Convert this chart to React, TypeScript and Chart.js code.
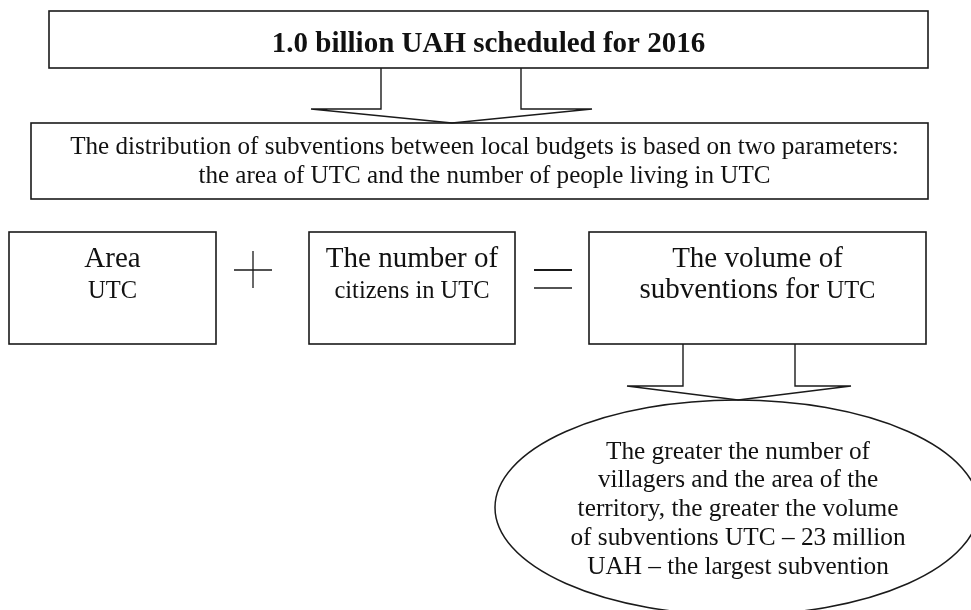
import React, { useEffect, useRef } from "react";
import { Chart, registerables } from "chart.js";

Chart.register(...registerables);

// ---- Texts of the diagram ----
const titleText = "1.0 billion UAH scheduled for 2016";
const distributionLines = [
  "The distribution of subventions between local budgets is based on two parameters:",
  "the area of UTC and the number of people living in UTC",
];
const areaLines = [[{ t: "Area", big: true }], [{ t: "UTC", big: false }]];
const citizensLines = [[{ t: "The number of", big: true }], [{ t: "citizens in UTC", big: false }]];
const volumeLines = [
  [{ t: "The volume of", big: true }],
  [{ t: "subventions for ", big: true }, { t: "UTC", big: false }],
];
const ellipseLines = [
  "The greater the number of",
  "villagers and the area of the",
  "territory, the greater the volume",
  "of subventions UTC \u2013 23 million",
  "UAH \u2013 the largest subvention",
];

// ---- Layout (in diagram units, mapped via the chart's scales) ----
const W = 971;
const H = 610;
const FONT = '"Liberation Serif", "Times New Roman", Times, serif';
const STROKE = "#1a1a1a";

const layout = {
  titleBox: { x0: 49, y0: 11, x1: 928, y1: 68, baseline: 52 },
  distBox: { x0: 31, y0: 123, x1: 928, y1: 199, baselines: [154, 183] },
  arrow1: { sx0: 381, sx1: 521, top: 68, wingY: 109, wl: 311, wr: 592, tipX: 452, tipY: 123 },
  boxA: { x0: 9, y0: 232, x1: 216, y1: 344 },
  boxB: { x0: 309, y0: 232, x1: 515, y1: 344 },
  boxC: { x0: 589, y0: 232, x1: 926, y1: 344 },
  rowBaselines: [267, 298],
  plus: { x0: 234, x1: 272, cy: 270, cx: 253, y0: 251, y1: 288 },
  equals: { x0: 534, x1: 572, y0: 270, y1: 288 },
  arrow2: { sx0: 683, sx1: 795, top: 344, wingY: 386, wl: 627, wr: 851, tipX: 738, tipY: 400 },
  ellipse: { cx: 737, cy: 507.5, rx: 242, ry: 107.5, rot: 0 },
  ellipseBaselines: [459, 487, 516, 545, 574],
};

const diagramPlugin = {
  id: "diagram",
  afterDraw(chart: any) {
    const ctx: CanvasRenderingContext2D = chart.ctx;
    const xs = chart.scales.x;
    const ys = chart.scales.y;
    const px = (v: number) => xs.getPixelForValue(v);
    const py = (v: number) => ys.getPixelForValue(v);

    ctx.save();
    ctx.strokeStyle = STROKE;
    ctx.fillStyle = "#111";
    ctx.lineJoin = "miter";

    const rect = (b: any, lw = 1.6) => {
      ctx.lineWidth = lw;
      ctx.strokeRect(px(b.x0), py(b.y0), px(b.x1) - px(b.x0), py(b.y1) - py(b.y0));
    };
    const arrow = (a: any) => {
      ctx.lineWidth = 1.4;
      ctx.beginPath();
      ctx.moveTo(px(a.sx0), py(a.top));
      ctx.lineTo(px(a.sx0), py(a.wingY));
      ctx.lineTo(px(a.wl), py(a.wingY));
      ctx.lineTo(px(a.tipX), py(a.tipY));
      ctx.lineTo(px(a.wr), py(a.wingY));
      ctx.lineTo(px(a.sx1), py(a.wingY));
      ctx.lineTo(px(a.sx1), py(a.top));
      ctx.stroke();
    };
    const centerText = (s: string, cx: number, by: number, font: string) => {
      ctx.font = font;
      ctx.textAlign = "center";
      ctx.textBaseline = "alphabetic";
      ctx.fillText(s, px(cx), py(by));
    };
    const mixedLine = (segs: any[], cx: number, by: number) => {
      const fonts = segs.map((s) => (s.big ? `29px ${FONT}` : `24.5px ${FONT}`));
      let total = 0;
      const widths = segs.map((s, i) => {
        ctx.font = fonts[i];
        const w = ctx.measureText(s.t).width;
        total += w;
        return w;
      });
      let x = px(cx) - total / 2;
      ctx.textAlign = "left";
      ctx.textBaseline = "alphabetic";
      segs.forEach((s, i) => {
        ctx.font = fonts[i];
        ctx.fillText(s.t, x, py(by));
        x += widths[i];
      });
    };

    // Title box
    const tb = layout.titleBox;
    rect(tb);
    centerText(titleText, (tb.x0 + tb.x1) / 2, tb.baseline, `bold 29px ${FONT}`);

    // Arrow 1
    arrow(layout.arrow1);

    // Distribution box
    const db = layout.distBox;
    rect(db);
    distributionLines.forEach((l, i) =>
      centerText(l, (db.x0 + db.x1) / 2 + 5, db.baselines[i], `25.1px ${FONT}`)
    );

    // Row boxes
    const rows: [any, any[]][] = [
      [layout.boxA, areaLines],
      [layout.boxB, citizensLines],
      [layout.boxC, volumeLines],
    ];
    rows.forEach(([b, lines]) => {
      rect(b);
      lines.forEach((segs: any[], i: number) =>
        mixedLine(segs, (b.x0 + b.x1) / 2, layout.rowBaselines[i])
      );
    });

    // Plus sign
    const p = layout.plus;
    ctx.lineWidth = 1.3;
    ctx.beginPath();
    ctx.moveTo(px(p.x0), py(p.cy));
    ctx.lineTo(px(p.x1), py(p.cy));
    ctx.moveTo(px(p.cx), py(p.y0));
    ctx.lineTo(px(p.cx), py(p.y1));
    ctx.stroke();

    // Equals sign
    const e = layout.equals;
    ctx.lineWidth = 2.2;
    ctx.beginPath();
    ctx.moveTo(px(e.x0), py(e.y0));
    ctx.lineTo(px(e.x1), py(e.y0));
    ctx.stroke();
    ctx.lineWidth = 1.4;
    ctx.beginPath();
    ctx.moveTo(px(e.x0), py(e.y1));
    ctx.lineTo(px(e.x1), py(e.y1));
    ctx.stroke();

    // Arrow 2
    arrow(layout.arrow2);

    // Ellipse
    const el = layout.ellipse;
    ctx.lineWidth = 1.5;
    ctx.beginPath();
    ctx.ellipse(px(el.cx), py(el.cy), px(el.cx + el.rx) - px(el.cx), py(el.cy + el.ry) - py(el.cy), el.rot, 0, Math.PI * 2);
    ctx.stroke();
    ellipseLines.forEach((l, i) =>
      centerText(l, el.cx + 1, layout.ellipseBaselines[i], `25.3px ${FONT}`)
    );

    ctx.restore();
  },
};

export default function App() {
  const ref = useRef<HTMLCanvasElement | null>(null);

  useEffect(() => {
    if (!ref.current) return;
    const chart = new Chart(ref.current, {
      type: "scatter",
      data: { datasets: [{ data: [], showLine: false }] },
      options: {
        animation: false,
        responsive: true,
        maintainAspectRatio: false,
        layout: { padding: 0 },
        plugins: { legend: { display: false }, tooltip: { enabled: false } },
        events: [],
        scales: {
          x: { type: "linear", min: 0, max: W, display: false },
          y: { type: "linear", min: 0, max: H, reverse: true, display: false },
        },
      },
      plugins: [diagramPlugin],
    });
    return () => chart.destroy();
  }, []);

  return (
    <div
      style={{
        position: "fixed",
        left: 0,
        top: 0,
        width: W,
        height: H,
        background: "#fff",
      }}
    >
      <canvas ref={ref} />
    </div>
  );
}
